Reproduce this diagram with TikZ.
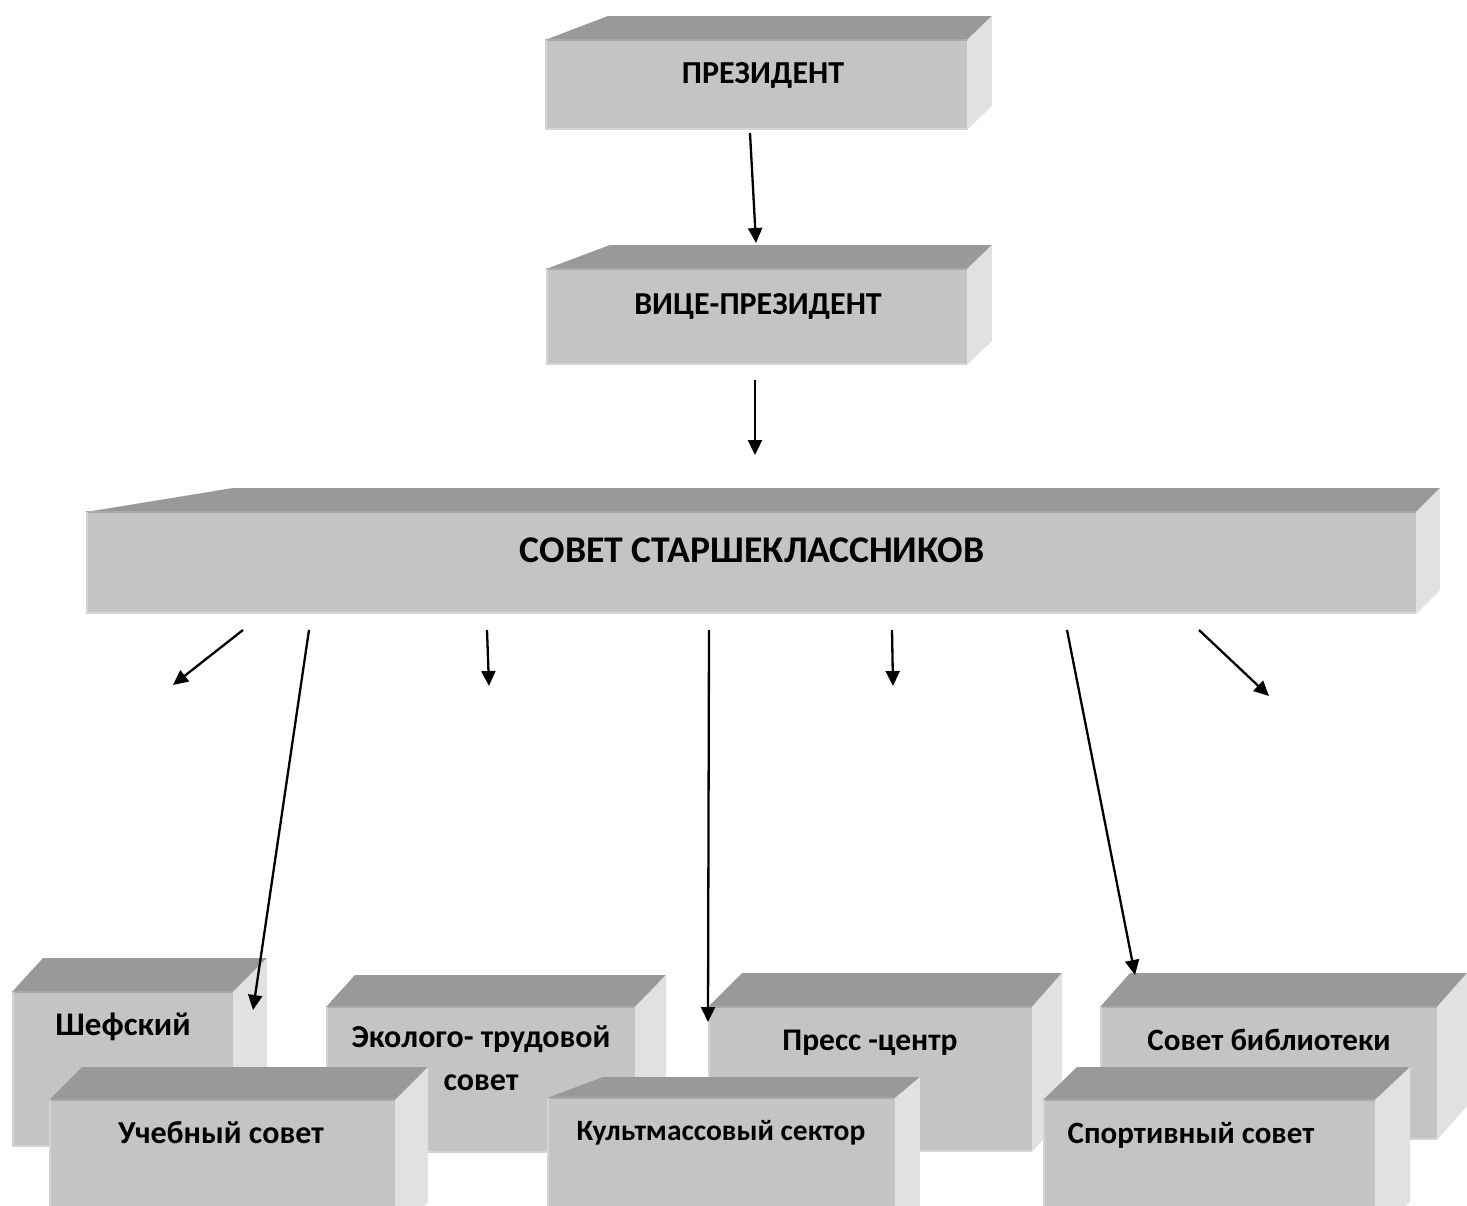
\documentclass[tikz,border=0pt]{standalone}
\usepackage{fontspec}
\setmainfont{Carlito}
\usetikzlibrary{arrows.meta}
\definecolor{cLico}{HTML}{C4C4C4}
\definecolor{cVerh}{HTML}{999999}
\definecolor{cBok}{HTML}{E1E1E1}
\definecolor{cKant}{HTML}{D4D4D4}
\definecolor{cKraj}{HTML}{A9A9A9}
\tikzset{
  lico/.style={rectangle, fill=cLico, inner sep=0pt, outer sep=0pt},
  verh/.style={fill=cVerh},
  bok/.style={fill=cBok},
  kant/.style={draw=cKant, line width=2pt},
  kraj/.style={draw=cKraj, line width=2pt},
  nadpis/.style={anchor=base, inner sep=0pt, font=\bfseries\fontsize{32}{38}\selectfont},
  strelka/.style={line width=2.3pt, -{Triangle[length=15pt,width=14pt]}}
}
% #1 name, #2 left, #3 top, #4 right, #5 bottom, #6 skew left, #7 skew right, #8 depth
\newcommand{\kub}[8]{%
  \fill[verh] (#2,#3) -- (#2+#6,#3-#8) -- (#4+#7,#3-#8) -- (#4,#3) -- cycle;
  \fill[bok] (#4,#3) -- (#4+#7,#3-#8) -- (#4+#7,#5-#8) -- (#4,#5) -- cycle;
  \node[lico, minimum width=#4-#2, minimum height=#5-#3] (#1) at ({(#2+#4)/2},{(#3+#5)/2}) {};
  \draw[kraj] (#2,#3) -- (#4,#3);
  \draw[kant] (#2+1,#3) -- (#2+1,#5-1) -- (#4,#5-1);
}
\begin{document}
\begin{tikzpicture}[x=1pt, y=-1pt]
\useasboundingbox (0,0) rectangle (1467,1205);
\clip (0,0) rectangle (1467,1205);
% top
\kub{pres}{545}{40}{967}{130}{63}{25}{24}
\kub{vice}{546}{269}{967}{365}{64}{25}{24}
\kub{sovet}{86}{512}{1416}{614}{147}{24}{24}
% back row
\kub{shef}{12}{992}{233}{1147}{31}{34}{34}
\kub{eko}{326}{1007}{635}{1153}{29}{31}{32}
\kub{press}{708}{1007}{1032}{1152}{34}{30}{34}
\kub{bibl}{1100}{1007}{1437}{1140}{30}{30}{34}
% front row
\kub{ucheb}{49}{1100}{395}{1235}{33}{33}{33}
\kub{kult}{547}{1098}{895}{1235}{56}{25}{21}
\kub{sport}{1043}{1100}{1375}{1235}{34}{35}{33}
% texts
\node[nadpis] (pres-t) at (763,83) {ПРЕЗИДЕНТ};
\node[nadpis] (vice-t) at (758,314) {ВИЦЕ-ПРЕЗИДЕНТ};
\node[nadpis, font=\bfseries\fontsize{37.7}{44}\selectfont] (sovet-t) at (752,562) {СОВЕТ СТАРШЕКЛАССНИКОВ};
\node[nadpis, font=\bfseries\fontsize{33}{38}\selectfont] (shef-t) at (123,1035) {Шефский};
\node[nadpis] (ucheb-t) at (221,1143) {Учебный совет};
\node[nadpis, align=center, font=\bfseries\fontsize{32}{43}\selectfont] (eko-t) at (481,1090) {Эколого- трудовой\\совет};
\node[nadpis, font=\bfseries\fontsize{31.5}{36}\selectfont] (press-t) at (870,1050) {Пресс -центр};
\node[nadpis, font=\bfseries\fontsize{29.5}{34}\selectfont] (kult-t) at (721,1140) {Культмассовый сектор};
\node[nadpis, font=\bfseries\fontsize{31}{36}\selectfont] (bibl-t) at (1269,1050) {Совет библиотеки};
\node[nadpis, font=\bfseries\fontsize{31}{36}\selectfont] (sport-t) at (1191,1143) {Спортивный совет};
% arrows
\coordinate (p1) at (750,133); \coordinate (p2) at (756,243);
\coordinate (v1) at (755,380); \coordinate (v2) at (755,455);
\coordinate (s1) at (243,630); \coordinate (e1) at (173,685);
\coordinate (s2) at (309,630); \coordinate (e2) at (253,1010);
\coordinate (s3) at (487,630); \coordinate (e3) at (489,686);
\coordinate (s4) at (709,630); \coordinate (e4) at (708,1022);
\coordinate (s5) at (892,630); \coordinate (e5) at (893,686);
\coordinate (s6) at (1067,630); \coordinate (e6) at (1135,975);
\coordinate (s7) at (1199,630); \coordinate (e7) at (1269,696);
\foreach \from/\to in {p1/p2, v1/v2, s1/e1, s2/e2, s3/e3, s4/e4, s5/e5, s6/e6, s7/e7}
\draw[strelka] (\from) -- (\to);
\end{tikzpicture}
\end{document}
